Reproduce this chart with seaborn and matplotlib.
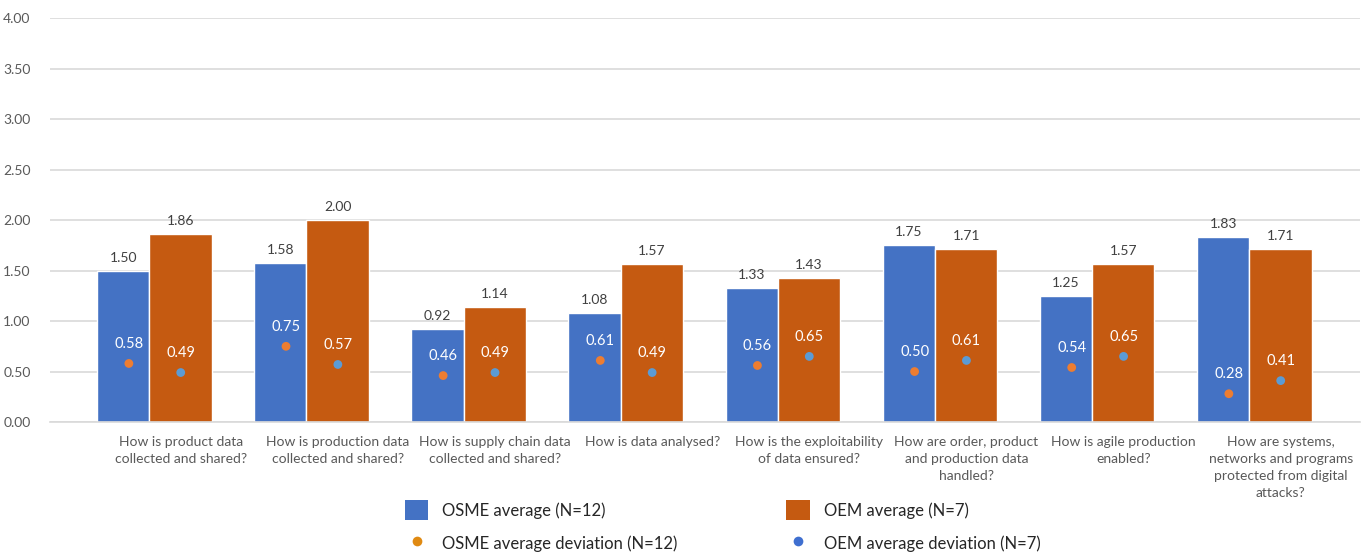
import numpy as np
import pandas as pd
import matplotlib
matplotlib.use("Agg")
import matplotlib.pyplot as plt
from matplotlib.patches import Patch
from matplotlib.lines import Line2D
import seaborn as sns

questions = [
    "How is product data\ncollected and shared?",
    "How is production data\ncollected and shared?",
    "How is supply chain data\ncollected and shared?",
    "How is data analysed?",
    "How is the exploitability\nof data ensured?",
    "How are order, product\nand production data\nhandled?",
    "How is agile production\nenabled?",
    "How are systems,\nnetworks and programs\nprotected from digital\nattacks?",
]
osme_avg = [1.50, 1.58, 0.92, 1.08, 1.33, 1.75, 1.25, 1.83]
oem_avg = [1.86, 2.00, 1.14, 1.57, 1.43, 1.71, 1.57, 1.71]
osme_dev = [0.58, 0.75, 0.46, 0.61, 0.56, 0.50, 0.54, 0.28]
oem_dev = [0.49, 0.57, 0.49, 0.49, 0.65, 0.61, 0.65, 0.41]
y_ticks = [0.0, 0.5, 1.0, 1.5, 2.0, 2.5, 3.0, 3.5, 4.0]

series_names = ["OSME average (N=12)", "OEM average (N=7)"]
dev_names = ["OSME average deviation (N=12)", "OEM average deviation (N=7)"]

BLUE = "#4472C4"
ORANGE = "#C55A11"
DOT_ORANGE = "#ED7D31"
DOT_BLUE = "#5B9BD5"
LEG_DOT_ORANGE = "#E08A12"
LEG_DOT_BLUE = "#3F6FD0"
TEXT = "#404040"
TICK = "#595959"
GRID = "#D9D9D9"

sns.set_theme(style="white")
plt.rcParams["font.family"] = ["Lato", "DejaVu Sans"]

df = pd.DataFrame({
    "question": questions * 2,
    "series": [series_names[0]] * len(questions) + [series_names[1]] * len(questions),
    "value": osme_avg + oem_avg,
})

fig = plt.figure(figsize=(13.68, 5.54), dpi=100)
ax = fig.add_axes([50 / 1368, 1 - 422 / 554, (1360 - 50) / 1368, (422 - 18.3) / 554])

sns.barplot(data=df, x="question", y="value", hue="series",
            palette=[BLUE, ORANGE], saturation=1, dodge=True,
            legend=False, errorbar=None, ax=ax, zorder=2)

# Uneven bar widths: OSME bar sits left of the category anchor, OEM bar right of it
osme_w, oem_w = 0.333, 0.396
for i, bar in enumerate(ax.containers[0]):
    bar.set_x(i - osme_w)
    bar.set_width(osme_w)
for i, bar in enumerate(ax.containers[1]):
    bar.set_x(i)
    bar.set_width(oem_w)

for cont in ax.containers:
    ax.bar_label(cont, fmt="%.2f", padding=5, color=TEXT, fontsize=10)

idx = np.arange(len(questions))
osme_x = idx - 0.13
oem_x = idx + 0.2
sns.scatterplot(x=osme_x, y=osme_dev, color=DOT_ORANGE, s=40, edgecolor="none",
                ax=ax, zorder=4, legend=False)
sns.scatterplot(x=oem_x, y=oem_dev, color=DOT_BLUE, s=40, edgecolor="none",
                ax=ax, zorder=4, legend=False)
for xs, ys in ((osme_x, osme_dev), (oem_x, oem_dev)):
    for x, y in zip(xs, ys):
        ax.annotate(f"{y:.2f}", (x, y), xytext=(0, 14), textcoords="offset points",
                    ha="center", va="center", color="white", fontsize=10.5, zorder=5)

ax.set_ylim(0, 4)
ax.set_xlim((50 - 149.3) / 157.14, (1360 - 149.3) / 157.14)
ax.set_yticks(y_ticks)
ax.set_yticklabels([f"{v:.2f}" for v in y_ticks])
ax.set_xticks(idx + 0.2)
ax.set_xticklabels(questions, linespacing=1.5)
ax.tick_params(axis="x", length=0, pad=10, labelsize=10, labelcolor=TICK)
ax.tick_params(axis="y", length=0, pad=14, labelsize=10, labelcolor=TICK)
ax.set_xlabel("")
ax.set_ylabel("")
ax.grid(axis="y", color=GRID, linewidth=1.2, zorder=0)
ax.set_axisbelow(True)
for side in ("top", "right", "left"):
    ax.spines[side].set_visible(False)
ax.spines["bottom"].set_color(GRID)
ax.spines["bottom"].set_linewidth(1.2)

handles = [
    Patch(facecolor=BLUE, edgecolor="none"),
    Line2D([], [], linestyle="none", marker="o", markersize=7,
           markerfacecolor=LEG_DOT_ORANGE, markeredgecolor="none"),
    Patch(facecolor=ORANGE, edgecolor="none"),
    Line2D([], [], linestyle="none", marker="o", markersize=7,
           markerfacecolor=LEG_DOT_BLUE, markeredgecolor="none"),
]
labels = [series_names[0], dev_names[0], series_names[1], dev_names[1]]
fig.legend(handles, labels, ncol=2, loc="upper left",
           bbox_to_anchor=(405 / 1368, 1 - 500 / 554),
           frameon=False, fontsize=12, labelcolor="#262626",
           handlelength=1.4, handleheight=1.5, handletextpad=0.85,
           columnspacing=6.5, labelspacing=0.75, borderpad=0, borderaxespad=0)

fig.savefig("out.png", dpi=100)
